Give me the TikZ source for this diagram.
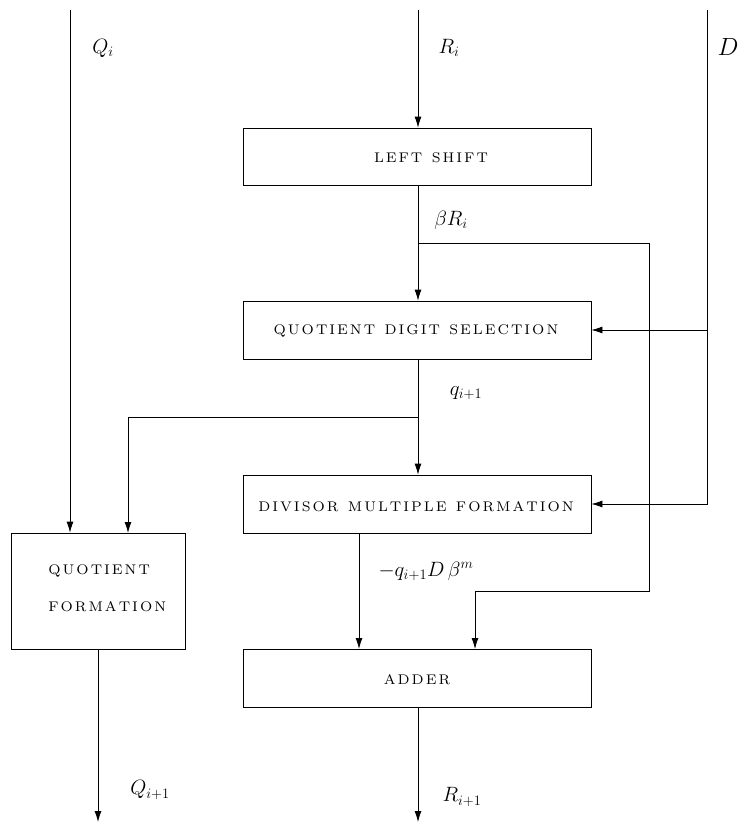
\documentclass[tikz,border=0pt]{standalone}
\usepackage{fontspec}
\usetikzlibrary{arrows.meta}

% small-design-size Latin Modern for the block captions
\newfontfamily\capfont{lmroman7-regular.otf}
% letter-spaced caption text: a kern after every character (~ for spaces)
\newcommand{\lsp}[1]{\lspstep#1\relax}
\def\lspstep#1{\ifx#1\relax\else#1\kern2pt\expandafter\lspstep\fi}
\newcommand{\blocktext}{\capfont\fontsize{14}{16}\selectfont}
\newcommand{\mathlabel}{\fontsize{20}{22}\selectfont}

\begin{document}
\begin{tikzpicture}[x=1pt,y=-1pt,
    line width=0.8pt,
    blk/.style={draw, rectangle, inner sep=0pt, minimum width=348pt, minimum height=58pt},
    btxt/.style={inner sep=0pt, font=\blocktext},
    mlab/.style={inner sep=0pt, font=\mathlabel},
    arr/.style={-{Latex[length=11pt,width=7pt]}}]
  \useasboundingbox (0,0) rectangle (739,822);

  % blocks
  \node[blk, minimum height=57pt] (ls)  at (417,156.5) {};
  \node[blk] (qds) at (417,330) {};
  \node[blk] (dmf) at (417,504) {};
  \node[blk] (add) at (417,678) {};
  \node[draw, rectangle, inner sep=0pt, minimum width=174pt, minimum height=116pt] (qf) at (98,591) {};

  % block captions
  \node[btxt] (lst)  at (432,158) {\lsp{LEFT~SHIFT}};
  \node[btxt] (qdst) at (417,331) {\lsp{QUOTIENT~DIGIT~SELECTION}};
  \node[btxt] (dmft) at (417,507) {\lsp{DIVISOR~MULTIPLE~FORMATION}};
  \node[btxt] (addt) at (418,680) {\lsp{ADDER}};
  \node[btxt, anchor=west] (qft1) at (48,571) {\lsp{QUOTIENT}};
  \node[btxt, anchor=west] (qft2) at (48,607) {\lsp{FORMATION}};

  % free ends of the inputs and outputs
  \coordinate (qin)  at (70,10);
  \coordinate (rin)  at (418,10);
  \coordinate (din)  at (707,10);
  \coordinate (dcor) at (707,504);
  \coordinate (dtap) at (707,330);
  \coordinate (qout) at (98,822);
  \coordinate (rout) at (418,822);

  % inputs
  \draw[arr] (qin) -- (qin |- qf.north);
  \draw[arr] (rin) -- (rin |- ls.north);
  \draw[arr] (din) -- (dcor) -- (dmf.east);
  \draw[arr] (dtap) -- (qds.east);

  % shifted remainder and its bypass to the adder
  \coordinate (btap) at (418,243);
  \draw[arr] (ls.south -| rin) -- (qds.north -| rin);
  \draw[arr] (btap) -- (649,243) -- (649,591) -- (475,591) -- (475,649);

  % quotient digit
  \coordinate (qtap) at (418,417);
  \draw[arr] (qds.south -| rin) -- (dmf.north -| rin);
  \draw[arr] (qtap) -- (128,417) -- (128,533);

  % divisor multiple into adder
  \draw[arr] (359,533) -- (359,649);

  % outputs
  \draw[arr] (add.south -| rin) -- (rout);
  \draw[arr] (qf.south) -- (qout);

  % signal labels
  \node[mlab] (lq)  at (103,48) {$Q_i$};
  \node[mlab] (lr)  at (449,48) {$R_i$};
  \node[inner sep=0pt, font=\fontsize{23}{25}\selectfont, anchor=east] (ld) at (739,47) {$D$};
  \node[mlab] (lbr) at (451,220) {$\beta R_i$};
  \node[mlab] (lq1) at (466,393) {$q_{i+1}$};
  \node[mlab] (lqd) at (426,571) {$-q_{i+1}D\,\beta^m$};
  \node[mlab] (lQ1) at (150,790) {$Q_{i+1}$};
  \node[mlab] (lR1) at (462,797) {$R_{i+1}$};
\end{tikzpicture}
\end{document}
